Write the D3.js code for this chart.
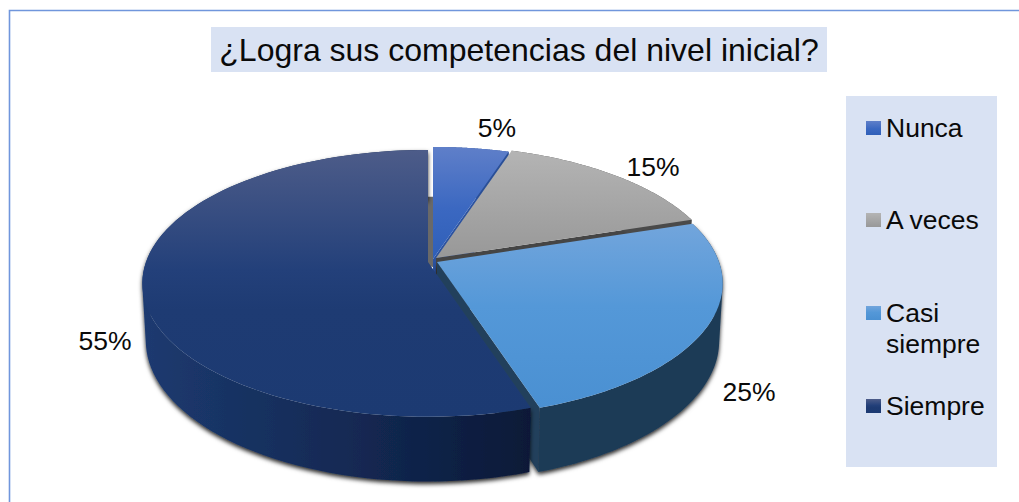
<!DOCTYPE html>
<html><head><meta charset="utf-8"><style>html,body{margin:0;padding:0;background:#fff;overflow:hidden}svg{display:block}text{font-family:"Liberation Sans",Arial,sans-serif;fill:#0a0a0a}</style>
<script src="https://cdn.jsdelivr.net/npm/d3@7"></script></head><body><svg id="c" width="1019" height="502"></svg>
<script>
const titleText = "¿Logra sus competencias del nivel inicial?";
const categories = ["Nunca","A veces","Casi siempre","Siempre"];
const values = [5,15,25,55];
const valueLabels = ["5%","15%","25%","55%"];

const svg = d3.select("#c"), defs = svg.append("defs");
const ids = ["n","g","b","s"];
const topStops = [
 [["0","#5f7fc9"],["0.55","#3b68c1"],["1","#2f5fb8"]],
 [["0","#b4b4b4"],["0.6","#a3a3a3"],["1","#989898"]],
 [["0","#72a5dc"],["0.45","#5498d8"],["1","#4a90d2"]],
 [["0","#4d5c89"],["0.45","#23407a"],["0.6","#1e3b73"],["1","#1c3a72"]]];
ids.forEach((id,i)=>{
  const g = defs.append("linearGradient").attr("id","t"+id).attr("x1",0).attr("y1",0).attr("x2",0).attr("y2",1);
  topStops[i].forEach(s=>g.append("stop").attr("offset",s[0]).attr("stop-color",s[1]));
});
const wg = defs.append("linearGradient").attr("id","ws").attr("x1",0).attr("y1",0).attr("x2",1).attr("y2",0);
[["0","#1c3a70"],["0.25","#183262"],["0.6","#122750"],["1","#0b1937"]].forEach(s=>wg.append("stop").attr("offset",s[0]).attr("stop-color",s[1]));
const sh = defs.append("filter").attr("id","sh").attr("x","-5%").attr("y","-5%").attr("width","110%").attr("height","115%");
sh.append("feDropShadow").attr("dx",0).attr("dy",2.5).attr("stdDeviation",2.2).attr("flood-color","#000").attr("flood-opacity",0.85);

// frame
svg.append("path").attr("d","M9.5,502V10.5H1019").attr("fill","none").attr("stroke","#7096dc").attr("stroke-width",1.6);

// title
svg.append("rect").attr("x",211).attr("y",27).attr("width",616).attr("height",45).attr("fill","#d9e2f3");
svg.append("text").attr("x",519).attr("y",61).attr("text-anchor","middle").attr("font-size",32).text(titleText);

// pie geometry (perspective disc)
const K=0.16, RX=282, RY=130, D=57, M=0.012;
const base = {x:428,y:262};
const offs = [[5,-3],[8,-4],[9,0],[0,0]];
const project = (o,th,r,z)=>{
  const u=Math.sin(th)*r, v=-Math.cos(th)*r, w=1-K*v+M*z;
  return [base.x+o[0]+RX*u/w, base.y+o[1]+(RY*v+D*z)/w];
};
const line = d3.line();
const rim = (o,a,b,z)=>d3.range(0,91).map(i=>project(o,a+(b-a)*i/90,1,z));
const arcs = d3.pie().sort(null)(values);

// the wall as a sweep of quads, so its silhouette stays tangent to both rims
const sweep = (o,a,b)=>{
  const t=rim(o,a,b,0), l=rim(o,a,b,1);
  return d3.range(0,90).map(i=>{
    const q=[t[i],t[i+1],l[i+1],l[i]];
    if(d3.polygonArea(q)<0) q.reverse();
    return line(q)+"Z";
  }).join("");
};

const gPie = svg.append("g");
// wall seen through the gap behind Nunca
const a0 = project(offs[0],0,0,0), r0=project(offs[0],0,1,1), s0=project(offs[3],0,0,0);
gPie.append("path").attr("d",line([[s0[0],r0[1]],[a0[0],r0[1]],[a0[0],a0[1]+8],[s0[0],s0[1]+4]])+"Z").attr("fill","#696969");

const wallCol=["#2a4f97","#4a4a4a","#1e3b57","url(#ws)"];
const sideCol=["#2b52a0","#454545","#23415c","#1e3b57"];
values.forEach((_,i)=>{
  const a=arcs[i], o=offs[i], g=gPie.append("g");
  const A=a.startAngle, B=a.endAngle;
  const walls=g.append("g").attr("filter",(i>=2)?"url(#sh)":null);
  if(i<3){
    walls.append("path").attr("d",line([project(o,0,0,0),project(o,B,1,0),project(o,B,1,1),project(o,0,0,1)])+"Z").attr("fill",sideCol[i]);
  }
  walls.append("path").attr("d",sweep(o,A,B)).attr("fill",wallCol[i]);
  const top=[project(o,0,0,0)].concat(rim(o,A,B,0));
  g.append("path").attr("d",line(top)+"Z").attr("fill","url(#t"+ids[i]+")");
});

// value labels
const labelPos=[[497,137],[653,176],[749,401],[105,350]];
svg.append("g").selectAll("text").data(valueLabels).join("text")
  .attr("x",(d,i)=>labelPos[i][0]).attr("y",(d,i)=>labelPos[i][1])
  .attr("text-anchor","middle").attr("font-size",26.5).text(d=>d);

// legend
svg.append("rect").attr("x",846).attr("y",96).attr("width",151).attr("height",371).attr("fill","#d9e2f3");
const legLines=[["Nunca"],["A veces"],["Casi","siempre"],["Siempre"]];
const legY=[128,220,313,406];
const leg=svg.append("g").selectAll("g").data(categories).join("g");
leg.append("rect").attr("x",866).attr("y",(d,i)=>legY[i]-7).attr("width",15).attr("height",14).attr("fill",(d,i)=>"url(#t"+ids[i]+")");
leg.each(function(d,i){
  legLines[i].forEach((t,j)=>d3.select(this).append("text").attr("x",886).attr("y",legY[i]+9+j*31).attr("font-size",26.5).text(t));
});
</script></body></html>
